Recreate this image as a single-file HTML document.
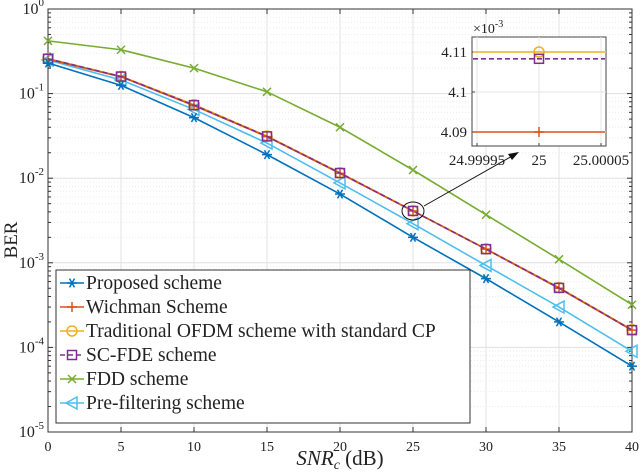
<!DOCTYPE html>
<html><head><meta charset="utf-8"><style>
body{margin:0;background:#fff}
svg text{font-family:"Liberation Serif",serif;fill:#222}
</style></head><body>
<svg id="c" width="640" height="471" xmlns="http://www.w3.org/2000/svg"></svg>
<script>
const snr=[0,5,10,15,20,25,30,35,40];
const proposed=[0.23,0.125,0.052,0.019,0.0065,0.002,0.00065,0.0002,0.00006];
const wichman=[0.255,0.158,0.072,0.031,0.0114,0.00409,0.00145,0.0005,0.00016];
const ofdm=[0.26,0.16,0.074,0.0315,0.0116,0.00411,0.00146,0.00051,0.000162];
const scfde=[0.258,0.159,0.073,0.0312,0.0115,0.0041,0.00145,0.000505,0.00016];
const fdd=[0.42,0.33,0.2,0.105,0.04,0.0125,0.0037,0.0011,0.00032];
const prefilter=[0.25,0.145,0.065,0.026,0.0088,0.0029,0.00093,0.0003,0.00009];
const xTicks=[0,5,10,15,20,25,30,35,40];
const yExp=[0,-1,-2,-3,-4,-5];
const insetVals=[4.11,4.1,4.09];
const svg=document.getElementById('c');const NS='http://www.w3.org/2000/svg';
function el(t,a,p){const e=document.createElementNS(NS,t);for(const k in a)e.setAttribute(k,a[k]);(p||svg).appendChild(e);return e;}
const L=48,R=632,T=9,B=432;
const X=v=>L+(v-0)/40*(R-L);
const Y=v=>T+(-Math.log10(v))/5*(B-T);
const grid=el('g',{});


for(const t of xTicks){el('line',{x1:X(t),x2:X(t),y1:T,y2:B,stroke:'#e3e3e3','stroke-width':1},grid);}
for(let e=0;e>-5;e--){for(let m=1;m<10;m++){const y=Y(Math.pow(10,e-1)*m);el('line',{x1:L,x2:R,y1:y,y2:y,stroke:m==1?'#e0e0e0':'#ececec','stroke-width':1,'stroke-dasharray':m==1?'':'1,2'},grid);}}
el('rect',{x:L,y:T,width:R-L,height:B-T,fill:'none',stroke:'#333','stroke-width':1});
for(const t of xTicks){el('line',{x1:X(t),x2:X(t),y1:B,y2:B-5,stroke:'#333'});el('line',{x1:X(t),x2:X(t),y1:T,y2:T+5,stroke:'#333'});
const tx=el('text',{x:X(t),y:B+19,'text-anchor':'middle','font-size':14});tx.textContent=t;

}
for(const e of yExp){const y=Y(Math.pow(10,e));
const tx=el('text',{x:L-4,y:y+5,'text-anchor':'end','font-size':16});tx.innerHTML='10<tspan dy="-8" font-size="11">'+e+'</tspan>';


if(e>-5)for(let m=2;m<10;m++){const yy=Y(Math.pow(10,e-1)*m);el('line',{x1:L,x2:L+3,y1:yy,y2:yy,stroke:'#333'});el('line',{x1:R,x2:R-3,y1:yy,y2:yy,stroke:'#333'});}
el('line',{x1:L,x2:L+5,y1:y,y2:y,stroke:'#333'});el('line',{x1:R,x2:R-5,y1:y,y2:y,stroke:'#333'});}
const yl=el('text',{x:0,y:0,transform:'translate(17,240) rotate(-90)','text-anchor':'middle','font-size':19});yl.textContent='BER';


const xl=el('text',{x:340,y:465,'text-anchor':'middle','font-size':21});xl.innerHTML='<tspan font-style="italic">SNR<tspan font-size="14" dy="4">c</tspan></tspan><tspan dy="-4"> (dB)</tspan>';


function marker(g,type,x,y,c){
 if(type=='star'){for(const a of [0,60,120]){const r=a*Math.PI/180;el('line',{x1:x-5*Math.cos(r),y1:y-5*Math.sin(r),x2:x+5*Math.cos(r),y2:y+5*Math.sin(r),stroke:c,'stroke-width':1.5},g);}}
 else if(type=='plus'){el('path',{d:`M${x-5} ${y}H${x+5}M${x} ${y-5}V${y+5}`,stroke:c,'stroke-width':1.5},g);}
 else if(type=='circle'){el('circle',{cx:x,cy:y,r:5,fill:'none',stroke:c,'stroke-width':1.5},g);}
 else if(type=='square'){el('rect',{x:x-4.5,y:y-4.5,width:9,height:9,fill:'none',stroke:c,'stroke-width':1.5},g);}
 else if(type=='x'){el('path',{d:`M${x-4} ${y-4}L${x+4} ${y+4}M${x-4} ${y+4}L${x+4} ${y-4}`,stroke:c,'stroke-width':1.5},g);}
 else if(type=='tri'){el('path',{d:`M${x-6} ${y}L${x+5} ${y-6}L${x+5} ${y+6}Z`,fill:'none',stroke:c,'stroke-width':1.5},g);}
}
const series=[
 {n:'proposed-series',d:proposed,c:'#0072BD',m:'star',lab:'Proposed scheme'},
 {n:'wichman-series',d:wichman,c:'#D95319',m:'plus',lab:'Wichman Scheme'},
 {n:'ofdm-series',d:ofdm,c:'#EDB120',m:'circle',lab:'Traditional OFDM scheme with standard CP'},
 {n:'scfde-series',d:scfde,c:'#7E2F8E',m:'square',lab:'SC-FDE scheme',dash:'5,3'},
 {n:'fdd-series',d:fdd,c:'#77AC30',m:'x',lab:'FDD  scheme'},
 {n:'prefilter-series',d:prefilter,c:'#4DBEEE',m:'tri',lab:'Pre-filtering scheme'}];
const order=[4,5,2,1,3,0];
for(const i of order){const s=series[i];const g=el('g',{});


el('polyline',{points:snr.map((v,j)=>X(v)+','+Y(s.d[j])).join(' '),fill:'none',stroke:s.c,'stroke-width':1.6,'stroke-dasharray':s.dash||''},g);
snr.forEach((v,j)=>marker(g,s.m,X(v),Y(s.d[j]),s.c));}
const an=el('g',{});


el('ellipse',{cx:X(25),cy:Y(0.0041),rx:11,ry:9,fill:'none',stroke:'#111','stroke-width':1},an);
el('line',{x1:424,y1:206,x2:514,y2:155,stroke:'#111','stroke-width':1},an);
el('path',{d:'M519 152L508 154L512 160Z',fill:'#111'},an);
const ins=el('g',{});


const iL=472,iR=606,iT=37,iB=146;
el('rect',{x:iL,y:iT,width:iR-iL,height:iB-iT,fill:'#fff',stroke:'#444'},ins);
const iX=v=>539+(v-25)/0.00005*62;const iY=v=>52+(4.11-v)/0.02*80;
for(const xv of [24.99995,25,25.00005]){el('line',{x1:iX(xv),x2:iX(xv),y1:iT,y2:iB,stroke:'#e6e6e6'},ins);el('line',{x1:iX(xv),x2:iX(xv),y1:iB,y2:iB-3,stroke:'#444'},ins);}
for(const v of insetVals){el('line',{x1:iL,x2:iR,y1:iY(v),y2:iY(v),stroke:'#e6e6e6'},ins);el('line',{x1:iL,x2:iL+3,y1:iY(v),y2:iY(v),stroke:'#444'},ins);
const t=el('text',{x:iL-5,y:iY(v)+5,'text-anchor':'end','font-size':15},ins);t.textContent=v;}
const ix=[[24.99995,'24.99995'],[25,'25'],[25.00005,'25.00005']];
for(const [v,s] of ix){const t=el('text',{x:iX(v),y:iB+19,'text-anchor':'middle','font-size':15},ins);t.textContent=s;}
const ex=el('text',{x:473,y:33,'font-size':14},ins);ex.innerHTML='×10<tspan dy="-6" font-size="10">-3</tspan>';
const insetLines=[[4.11,'#EDB120','circle',''],[4.1083,'#7E2F8E','square','5,3'],[4.09,'#D95319','plus','']];
for(const [v,c,m,d] of insetLines){el('line',{x1:iL+1,x2:iR-1,y1:iY(v),y2:iY(v),stroke:c,'stroke-width':1.6,'stroke-dasharray':d},ins);marker(ins,m,iX(25),iY(v),c);}
const lg=el('g',{});


el('rect',{x:56,y:270,width:414,height:153,fill:'#fff',stroke:'#333'},lg);
series.forEach((s,i)=>{const y=283+i*24;const e=el('g',{},lg);


el('line',{x1:60,x2:84,y1:y,y2:y,stroke:s.c,'stroke-width':1.6,'stroke-dasharray':s.dash||''},e);marker(e,s.m,72,y,s.c);
const t=el('text',{x:86,y:y+6,'font-size':19.5},e);t.textContent=s.lab;});
</script>
</body></html>
